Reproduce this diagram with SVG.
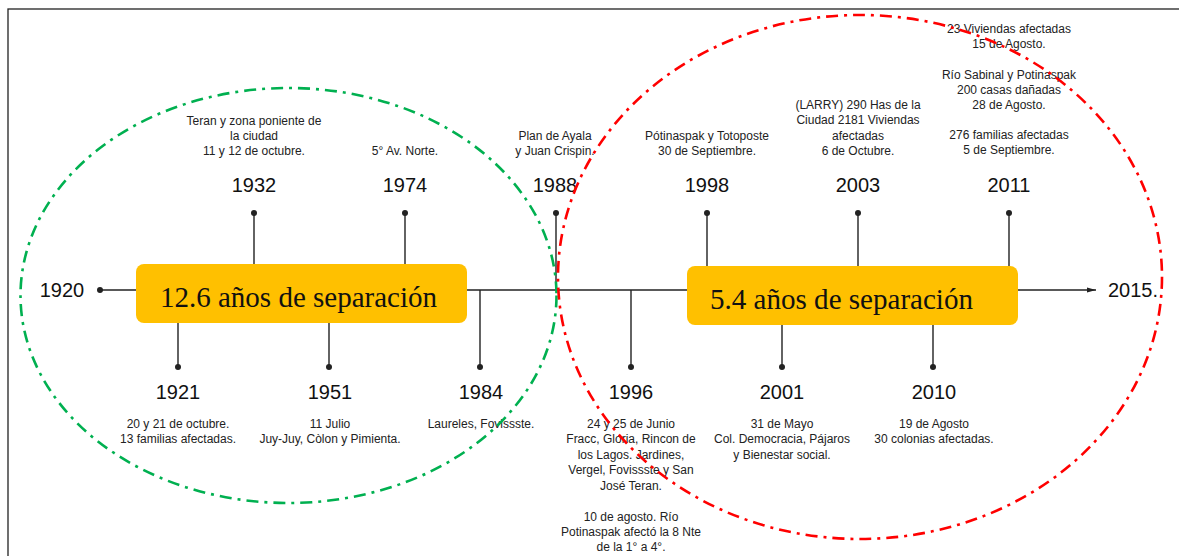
<svg xmlns="http://www.w3.org/2000/svg" width="1179" height="556" viewBox="0 0 1179 556">
<defs>
<style>
.d{font-family:"Liberation Sans",Arial,sans-serif;font-size:12px;fill:#222;text-anchor:middle}
.y{font-family:"Liberation Sans",Arial,sans-serif;font-size:20px;fill:#111;text-anchor:middle}
.ln{stroke:#222;stroke-width:1.4;fill:none}
.dot{fill:#222}
.box{fill:#FFC000}
.bt{font-family:"Liberation Serif","Times New Roman",serif;font-size:29px;fill:#111}
.ell{fill:none;stroke-width:2.6;stroke-dasharray:12 6 3 6}
</style>
<marker id="arr" markerWidth="10" markerHeight="8" refX="9" refY="4" orient="auto" markerUnits="userSpaceOnUse">
<path d="M0,1.5 L9,4 L0,6.5 Z" fill="#222"/>
</marker>
</defs>
<rect x="0" y="0" width="1179" height="556" fill="#fff"/>
<rect x="8" y="9" width="1190" height="570" fill="none" stroke="#222" stroke-width="1.3"/>

<g id="connectors">
<line class="ln" x1="100" y1="290" x2="1096" y2="290" marker-end="url(#arr)"/>
<circle class="dot" cx="100" cy="290" r="3"/>
<line class="ln" x1="254" y1="213" x2="254" y2="290"/><circle class="dot" cx="254" cy="213" r="3"/>
<line class="ln" x1="405" y1="213" x2="405" y2="290"/><circle class="dot" cx="405" cy="213" r="3"/>
<line class="ln" x1="556" y1="213" x2="556" y2="290"/><circle class="dot" cx="556" cy="213" r="3"/>
<line class="ln" x1="707" y1="213" x2="707" y2="290"/><circle class="dot" cx="707" cy="213" r="3"/>
<line class="ln" x1="858" y1="213" x2="858" y2="290"/><circle class="dot" cx="858" cy="213" r="3"/>
<line class="ln" x1="1009" y1="213" x2="1009" y2="290"/><circle class="dot" cx="1009" cy="213" r="3"/>
<line class="ln" x1="178" y1="290" x2="178" y2="367"/><circle class="dot" cx="178" cy="367" r="3"/>
<line class="ln" x1="329" y1="290" x2="329" y2="367"/><circle class="dot" cx="329" cy="367" r="3"/>
<line class="ln" x1="480" y1="290" x2="480" y2="367"/><circle class="dot" cx="480" cy="367" r="3"/>
<line class="ln" x1="631" y1="290" x2="631" y2="367"/><circle class="dot" cx="631" cy="367" r="3"/>
<line class="ln" x1="782" y1="290" x2="782" y2="367"/><circle class="dot" cx="782" cy="367" r="3"/>
<line class="ln" x1="933" y1="290" x2="933" y2="367"/><circle class="dot" cx="933" cy="367" r="3"/>
</g>

<g id="n1920"><text class="y" x="62" y="297">1920</text></g>
<g id="n2015"><text class="y" x="1108" y="297" style="text-anchor:start">2015.</text></g>

<g id="n1932">
<text class="d" x="254" y="125">Teran y zona poniente de</text>
<text class="d" x="254" y="140">la ciudad</text>
<text class="d" x="254" y="155">11 y 12 de octubre.</text>
<text class="y" x="254" y="192">1932</text>
</g>
<g id="n1974">
<text class="d" x="405" y="155">5° Av. Norte.</text>
<text class="y" x="405" y="192">1974</text>
</g>
<g id="n1988">
<text class="d" x="555" y="140">Plan de Ayala</text>
<text class="d" x="555" y="155">y Juan Crispin.</text>
<text class="y" x="555" y="192">1988</text>
</g>
<g id="n1998">
<text class="d" x="707" y="140">Pótinaspak y Totoposte</text>
<text class="d" x="707" y="155">30 de Septiembre.</text>
<text class="y" x="707" y="192">1998</text>
</g>
<g id="n2003">
<text class="d" x="858" y="109">(LARRY) 290 Has de la</text>
<text class="d" x="858" y="124">Ciudad 2181 Viviendas</text>
<text class="d" x="858" y="140">afectadas</text>
<text class="d" x="858" y="155">6 de Octubre.</text>
<text class="y" x="858" y="192">2003</text>
</g>
<g id="n2011">
<text class="d" x="1009" y="33">23 Viviendas afectadas</text>
<text class="d" x="1009" y="48">15 de Agosto.</text>
<text class="d" x="1009" y="79">Río Sabinal y Potinaspak</text>
<text class="d" x="1009" y="94">200 casas dañadas</text>
<text class="d" x="1009" y="109">28 de Agosto.</text>
<text class="d" x="1009" y="139">276 familias afectadas</text>
<text class="d" x="1009" y="154">5 de Septiembre.</text>
<text class="y" x="1009" y="192">2011</text>
</g>

<g id="n1921">
<text class="y" x="178" y="399">1921</text>
<text class="d" x="178" y="428">20 y 21 de octubre.</text>
<text class="d" x="178" y="443">13 familias afectadas.</text>
</g>
<g id="n1951">
<text class="y" x="330" y="399">1951</text>
<text class="d" x="330" y="428">11 Julio</text>
<text class="d" x="330" y="443">Juy-Juy, Còlon y Pimienta.</text>
</g>
<g id="n1984">
<text class="y" x="481" y="399">1984</text>
<text class="d" x="481" y="428">Laureles, Fovissste.</text>
</g>
<g id="n1996">
<text class="y" x="631" y="399">1996</text>
<text class="d" x="631" y="428">24 y 25 de Junio</text>
<text class="d" x="631" y="443">Fracc, Gloria, Rincon de</text>
<text class="d" x="631" y="459">los Lagos. Jardines,</text>
<text class="d" x="631" y="474">Vergel, Fovissste y San</text>
<text class="d" x="631" y="490">José Teran.</text>
<text class="d" x="631" y="521">10 de agosto. Río</text>
<text class="d" x="631" y="536">Potinaspak afectó la 8 Nte</text>
<text class="d" x="631" y="551">de la 1° a 4°.</text>
</g>
<g id="n2001">
<text class="y" x="782" y="399">2001</text>
<text class="d" x="782" y="428">31 de Mayo</text>
<text class="d" x="782" y="443">Col. Democracia, Pájaros</text>
<text class="d" x="782" y="459">y Bienestar social.</text>
</g>
<g id="n2010">
<text class="y" x="934" y="399">2010</text>
<text class="d" x="934" y="428">19 de Agosto</text>
<text class="d" x="934" y="443">30 colonias afectadas.</text>
</g>

<g id="box1">
<rect class="box" x="136" y="264" width="331" height="59" rx="8"/>
<text class="bt" x="160" y="307" textLength="277" lengthAdjust="spacingAndGlyphs">12.6 años de separación</text>
</g>
<g id="box2">
<rect class="box" x="687" y="266" width="331" height="59" rx="8"/>
<text class="bt" x="710" y="309" textLength="263" lengthAdjust="spacingAndGlyphs">5.4 años de separación</text>
</g>

<g id="groups">
<ellipse class="ell" cx="288.5" cy="295.5" rx="268" ry="207.5" stroke="#00B050"/>
<ellipse class="ell" cx="860" cy="277" rx="302" ry="262" stroke="#FF0000"/>
</g>
</svg>
